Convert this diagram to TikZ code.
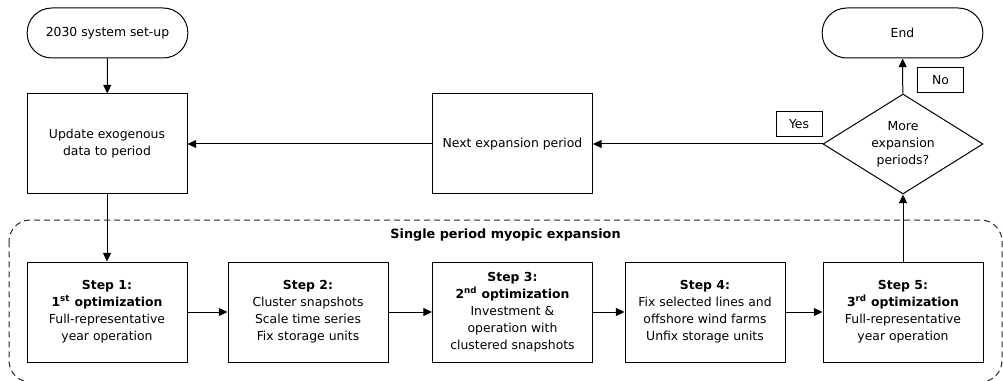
\documentclass[tikz,border=0pt]{standalone}
\usepackage{fontspec}
\setmainfont{DejaVu Sans}
\usetikzlibrary{arrows.meta,shapes.geometric}
\newcommand\dfont{\fontsize{9.3pt}{12.8pt}\selectfont}
\begin{document}
\begin{tikzpicture}[x=0.75pt,y=-0.75pt,
  every node/.style={font=\dfont},
  proc/.style={draw,line width=0.75pt,minimum width=120pt,minimum height=75pt,align=center,inner sep=2pt},
  term/.style={draw,line width=0.75pt,rounded corners=18.5pt,minimum width=120.5pt,minimum height=37.5pt,align=center},
  decide/.style={draw,line width=0.75pt,diamond,shape aspect=1.6,inner sep=0pt,minimum width=120pt,minimum height=75pt,align=center},
  lbl/.style={draw,line width=0.75pt,minimum width=34.5pt,minimum height=18.75pt,inner sep=1pt},
  arr/.style={line width=0.75pt,-{Triangle[length=6.5pt,width=6pt]}},
  group/.style={draw=black!85,line width=0.75pt,dash pattern=on 4.5pt off 3pt,rounded corners=16pt}
]
\useasboundingbox (0,0) rectangle (1003,381);
\draw[group] (9,220) rectangle (1002,382);
\node[term] (start) at (107.5,33) {2030 system set-up};
\node[proc] (update) at (107,144) {Update exogenous\\data to period};
\node[proc] (next) at (512.5,144) {Next expansion period};
\node[decide] (dec) at (903,144) {More\\expansion\\periods?};
\node[term] (end) at (902.5,33) {End};
\node[lbl] (no) at (940.5,80.5) {No};
\node[lbl] (yes) at (799,124.5) {Yes};
\node[font={\fontsize{9.6pt}{12.8pt}\selectfont\bfseries}] (title) at (505.5,235) {Single period myopic expansion};
\node[proc] (s1) at (107,312) {\textbf{Step 1:}\\\textbf{1\textsuperscript{st} optimization}\\Full-representative\\year operation};
\node[proc] (s2) at (308,312) {\textbf{Step 2:}\\Cluster snapshots\\Scale time series\\Fix storage units};
\node[proc] (s3) at (512.5,312) {\textbf{Step 3:}\\\textbf{2\textsuperscript{nd} optimization}\\Investment \&\\operation with\\clustered snapshots};
\node[proc] (s4) at (705,312) {\textbf{Step 4:}\\Fix selected lines and\\offshore wind farms\\Unfix storage units};
\node[proc] (s5) at (903,312) {\textbf{Step 5:}\\\textbf{3\textsuperscript{rd} optimization}\\Full-representative\\year operation};
\draw[arr] (start) -- (update);
\draw[arr] (update) -- (s1);
\draw[arr] (s1) -- (s2);
\draw[arr] (s2) -- (s3);
\draw[arr] (s3) -- (s4);
\draw[arr] (s4) -- (s5);
\draw[arr] (s5) -- (dec);
\draw[arr] (dec) -- (end);
\draw[arr] (dec.west) -- (next.east);
\draw[arr] (next.west) -- (update.east);
\end{tikzpicture}
\end{document}
